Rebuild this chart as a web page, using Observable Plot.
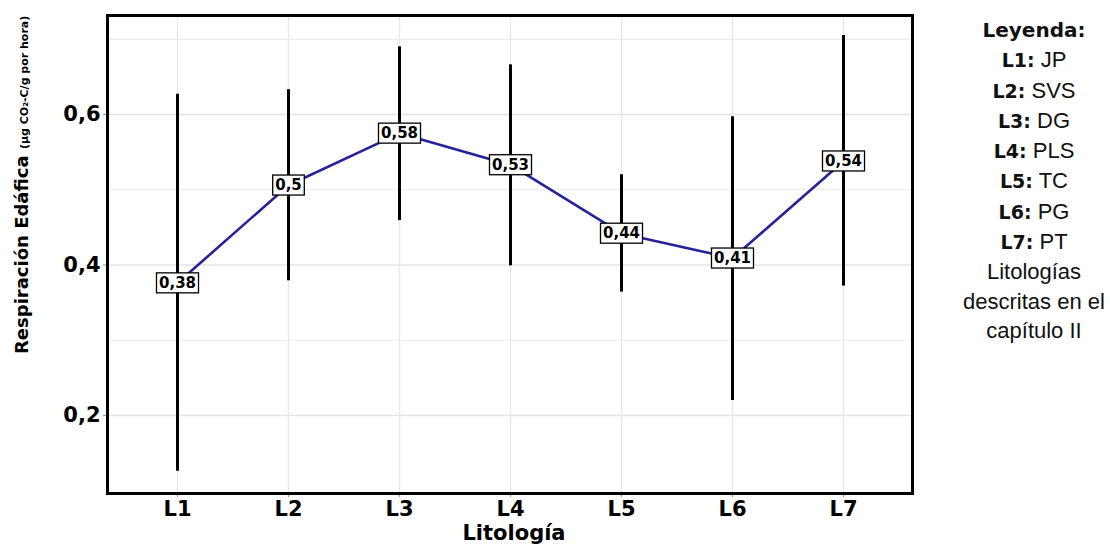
<!DOCTYPE html>
<html><head><meta charset="utf-8">
<script src="https://cdn.jsdelivr.net/npm/d3@7"></script>
<script src="https://cdn.jsdelivr.net/npm/@observablehq/plot@0.6"></script>
<style>
body{margin:0;background:#fff;}
#wrap{position:relative;width:1110px;height:551px;overflow:hidden;}
#legend{position:absolute;left:958px;top:15px;width:152px;text-align:center;white-space:nowrap;font-family:"Liberation Sans Narrow","Arial Narrow","Liberation Sans",sans-serif;font-size:22px;line-height:29.3px;color:#111;}
#legend b{font-family:"DejaVu Sans",sans-serif;font-weight:bold;font-size:19px;}
</style></head>
<body><div id="wrap"><div id="legend"></div></div>
<script>
const categories = ["L1","L2","L3","L4","L5","L6","L7"];
const means = [0.376,0.506,0.575,0.533,0.442,0.409,0.538];
const lower = [0.126,0.379,0.459,0.399,0.364,0.220,0.372];
const upper = [0.627,0.633,0.690,0.666,0.520,0.597,0.705];
const valueLabels = ["0,38","0,5","0,58","0,53","0,44","0,41","0,54"];
const yTicks = [0.2,0.4,0.6];
const yMinorTicks = [0.3,0.5,0.7];
const legendCodes = ["JP","SVS","DG","PLS","TC","PG","PT"];
const legendTitle = "Leyenda:";
const legendNote = ["Litologías","descritas en el","capítulo II"];
const xTitle = "Litología";
const yTitleMain = "Respiración Edáfica ";
const yTitleUnit = "(µg CO₂-C/g por hora)";

const data = categories.map((c,i)=>({cat:c, mean:means[i], lo:lower[i], hi:upper[i], label:valueLabels[i]}));
const fmt = d => d.toFixed(1).replace(".", ",");

const plot = Plot.plot({
  width:1110, height:551,
  marginLeft:107, marginRight:198, marginTop:15, marginBottom:58,
  style:{fontFamily:"DejaVu Sans, sans-serif", background:"transparent"},
  x:{type:"point", domain:categories, padding:0.62},
  y:{domain:[0.0963,0.7316]},
  marks:[
    Plot.gridY(yMinorTicks, {stroke:"#ececec", strokeOpacity:1, strokeWidth:1.2}),
    Plot.gridY(yTicks, {stroke:"#e4e4e4", strokeOpacity:1, strokeWidth:1.6}),
    Plot.gridX(categories, {stroke:"#e8e8e8", strokeOpacity:1, strokeWidth:1.4}),
    Plot.axisY(yTicks, {tickSize:4, stroke:"#999", tickPadding:3, tickFormat:fmt, fontSize:21, fontWeight:"bold", fill:"#000", label:null}),
    Plot.axisX({tickSize:4, stroke:"#999", tickPadding:4, fontSize:21, fontWeight:"bold", fill:"#000", label:null}),
    Plot.ruleX(data, {x:"cat", y1:"lo", y2:"hi", stroke:"#000", strokeWidth:3}),
    Plot.line(data, {x:"cat", y:"mean", stroke:"#25239a", strokeWidth:2.6}),
    Plot.text(data, {x:"cat", y:"mean", text:"label", fontSize:15, fontWeight:"bold", fill:"#000", ariaDescription:"vlabel"}),
    Plot.frame({stroke:"#000", strokeWidth:3}),
    Plot.text([xTitle], {text:d=>d, frameAnchor:"bottom", dx:4, dy:46, fontSize:21, fontWeight:"bold", fill:"#000"})
  ]
});
const wrap = document.getElementById("wrap");
plot.style.position = "absolute"; plot.style.left = "0"; plot.style.top = "0";
wrap.insertBefore(plot, wrap.firstChild);

// boxes behind value labels
d3.select(plot).selectAll('g[aria-description="vlabel"] text').each(function(){
  const b = this.getBBox();
  const r = document.createElementNS("http://www.w3.org/2000/svg","rect");
  const px = 2.5, py = 1;
  r.setAttribute("x", b.x - px); r.setAttribute("y", b.y - py);
  r.setAttribute("width", b.width + 2*px); r.setAttribute("height", b.height + 2*py);
  r.setAttribute("fill", "#fff"); r.setAttribute("stroke", "#000"); r.setAttribute("stroke-width", "1.3");
  const t = this.getAttribute("transform"); if (t) r.setAttribute("transform", t);
  this.parentNode.insertBefore(r, this);
});

// y-axis title
const yt = d3.select(plot).append("text")
  .attr("transform","translate(28,354) rotate(-90)")
  .attr("text-anchor","start")
  .attr("font-family","DejaVu Sans, sans-serif")
  .attr("font-weight","bold")
  .attr("fill","#000");
yt.append("tspan").attr("font-size",18).text(yTitleMain);
yt.append("tspan").attr("font-size",11).text(yTitleUnit);

// legend
const lg = d3.select("#legend");
lg.append("div").append("b").style("font-size","20px").text(legendTitle);
categories.forEach((c,i)=>{
  const row = lg.append("div");
  row.append("b").text(c + ":");
  row.append("span").text(" " + legendCodes[i]);
});
legendNote.forEach(s => lg.append("div").text(s));
</script>
</body></html>
